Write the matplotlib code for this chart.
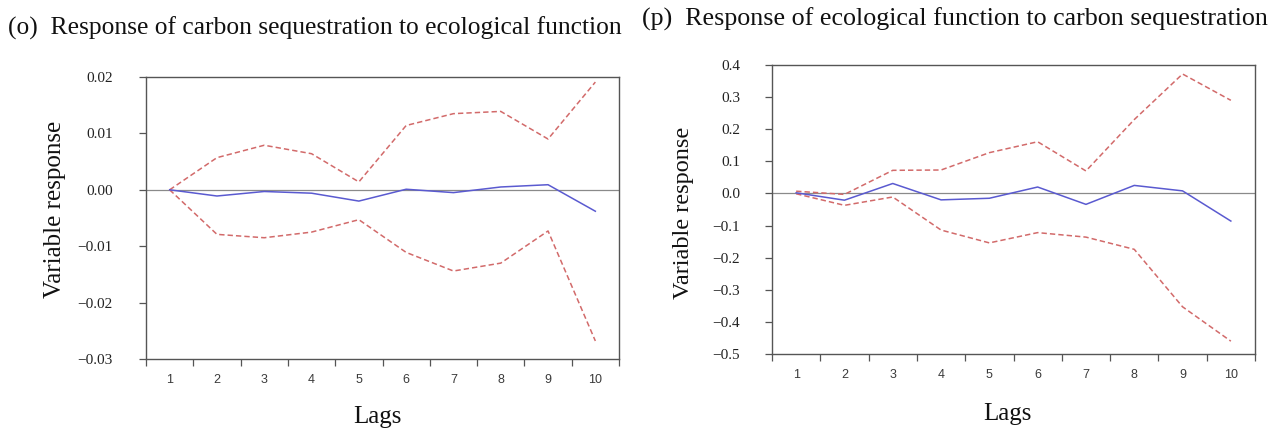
import matplotlib
matplotlib.use("Agg")
import matplotlib.pyplot as plt
from matplotlib.ticker import FixedLocator, NullFormatter, FuncFormatter

# ---------------- data ----------------
lags = [1, 2, 3, 4, 5, 6, 7, 8, 9, 10]

# (o) Response of carbon sequestration to ecological function
o_response = [0.0, -0.0011, -0.0003, -0.0006, -0.0020, 0.0001, -0.0005, 0.0005, 0.0009, -0.0038]
o_upper = [0.0, 0.0057, 0.0079, 0.0064, 0.0014, 0.0114, 0.0135, 0.0139, 0.0090, 0.0191]
o_lower = [0.0, -0.0079, -0.0085, -0.0075, -0.0053, -0.0111, -0.0144, -0.0130, -0.0073, -0.0268]
o_yticks = [-0.03, -0.02, -0.01, 0.00, 0.01, 0.02]

# (p) Response of ecological function to carbon sequestration
p_response = [0.002, -0.021, 0.031, -0.020, -0.015, 0.020, -0.034, 0.025, 0.008, -0.086]
p_upper = [0.007, -0.003, 0.072, 0.073, 0.127, 0.161, 0.070, 0.230, 0.372, 0.290]
p_lower = [-0.001, -0.037, -0.011, -0.114, -0.154, -0.122, -0.136, -0.174, -0.353, -0.460]
p_yticks = [-0.5, -0.4, -0.3, -0.2, -0.1, 0.0, 0.1, 0.2, 0.3, 0.4]

title_o = "(o)  Response of carbon sequestration to ecological function"
title_p = "(p)  Response of ecological function to carbon sequestration"
ylabel = "Variable response"
xlabel = "Lags"

# ---------------- style ----------------
W, H = 1280, 434
fig = plt.figure(figsize=(W / 100, H / 100), dpi=100)
fig.patch.set_facecolor("white")

SERIF = ["Liberation Serif", "DejaVu Serif"]
SANS = ["Liberation Sans", "DejaVu Sans"]
BLUE = "#5a5ad0"
RED = "#d26a6a"
FRAME = "#555555"


def px_x(x):
    return x / W


def px_y(y):
    return 1 - y / H


def make_fmt(decimals):
    def f(v, pos):
        s = f"{abs(v):.{decimals}f}"
        if v < -1e-12:
            return "\u2212" + s
        return s
    return FuncFormatter(f)


def panel(rect, resp, up, lo, yticks, decimals, ypad):
    ax = fig.add_axes(rect)
    ax.plot(lags, up, color=RED, lw=1.1, ls=(0, (3.5, 2)))
    ax.plot(lags, lo, color=RED, lw=1.1, ls=(0, (3.5, 2)))
    ax.plot(lags, resp, color=BLUE, lw=1.1)
    ax.axhline(0, color="#8a8a8a", lw=0.9, zorder=0)
    ax.set_xlim(0.5, 10.5)
    ax.set_ylim(yticks[0], yticks[-1])
    # x: labels at integers, tick marks at half positions
    ax.xaxis.set_major_locator(FixedLocator(lags))
    ax.xaxis.set_minor_locator(FixedLocator([v + 0.5 for v in range(0, 11)]))
    ax.xaxis.set_minor_formatter(NullFormatter())
    ax.tick_params(axis="x", which="major", length=0, pad=11, labelsize=9,
                   labelcolor="#3a3a3a")
    ax.tick_params(axis="x", which="minor", length=5, width=0.9, color=FRAME,
                   direction="out")
    for lab in ax.get_xticklabels():
        lab.set_family(SANS)
    ax.set_yticks(yticks)
    ax.yaxis.set_major_formatter(make_fmt(decimals))
    ax.tick_params(axis="y", length=5, width=0.9, color=FRAME, pad=ypad,
                   labelsize=11, labelcolor="#222222", direction="out")
    for lab in ax.get_yticklabels():
        lab.set_family(SERIF)
    for sp in ax.spines.values():
        sp.set_color(FRAME)
        sp.set_linewidth(1.0)
    return ax


# left panel: frame x 146-619, y 77-359
panel([px_x(146), px_y(359), (619 - 146) / W, (359 - 77) / H],
      o_response, o_upper, o_lower, o_yticks, 2, 19)
# right panel: frame x 772-1255, y 65-354
panel([px_x(772), px_y(354), (1255 - 772) / W, (354 - 65) / H],
      p_response, p_upper, p_lower, p_yticks, 1, 18)

# titles
fig.text(px_x(8), px_y(28), title_o, family=SERIF, fontsize=18.4,
         ha="left", va="center", color="#111111")
fig.text(px_x(642), px_y(19), title_p, family=SERIF, fontsize=18.7,
         ha="left", va="center", color="#111111")

# y labels
fig.text(px_x(55), px_y(209), ylabel, family=SERIF, fontsize=18,
         rotation=90, ha="center", va="center", color="#111111")
fig.text(px_x(683), px_y(213), ylabel, family=SERIF, fontsize=17.5,
         rotation=90, ha="center", va="center", color="#111111")

# x labels
fig.text(px_x(377), px_y(417), xlabel, family=SERIF, fontsize=18,
         ha="center", va="center", color="#111111")
fig.text(px_x(1007), px_y(414), xlabel, family=SERIF, fontsize=18,
         ha="center", va="center", color="#111111")

fig.savefig("out.png", dpi=100, facecolor="white")
